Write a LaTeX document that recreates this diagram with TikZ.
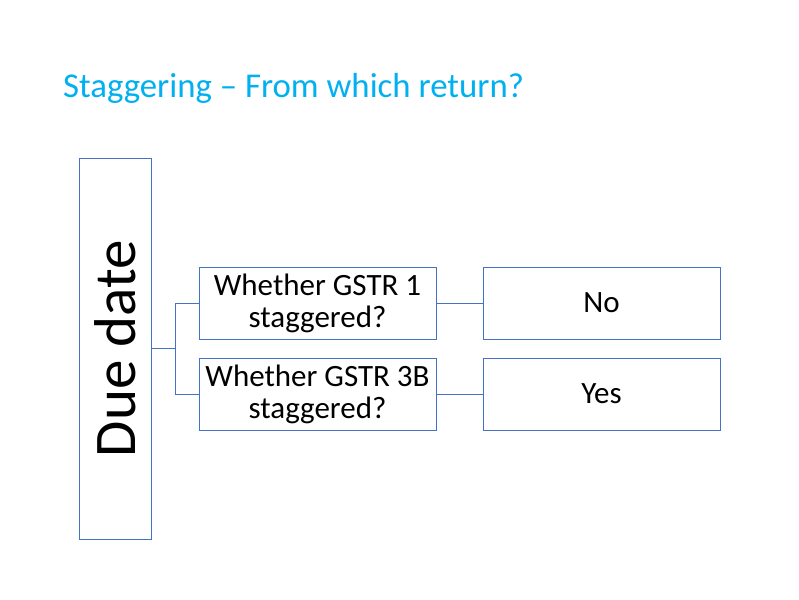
\documentclass[tikz,border=0pt]{standalone}
\usepackage{fontspec}
\setmainfont{Carlito}
\definecolor{titleblue}{HTML}{00B0F0}
\definecolor{lineblue}{HTML}{4472C4}
\tikzset{
    box/.style={draw=lineblue, line width=0.9pt, fill=white, minimum width=237pt, minimum height=72pt, inner sep=0pt, align=center, font=\fontsize{31}{32}\selectfont},
    link/.style={draw=lineblue, line width=0.9pt}
}
\begin{document}
\begin{tikzpicture}[x=1pt, y=1pt]
    \useasboundingbox[fill=white] (0,0) rectangle (799,599);

    % Title
    \node[anchor=base west, inner sep=0pt, text=titleblue, font=\fontsize{34.8}{40}\selectfont] (title) at (63,501) {Staggering -- From which return?};

    % Draw the tall box
    \node[draw=lineblue, line width=0.9pt, minimum width=72pt, minimum height=381pt, inner sep=0pt] (due) at (115,250.5) {};
    \node[rotate=90, font=\fontsize{59}{60}\selectfont, inner sep=0pt] (duetext) at (115,250.5) {Due date};

    % Draw the questions
    \node[box] (q1) at (317.5,296) {Whether GSTR 1\\staggered?};
    \node[box] (q2) at (317.5,205) {Whether GSTR 3B\\staggered?};

    % Draw the answers
    \node[box] (no) at (601.5,296) {No};
    \node[box] (yes) at (601.5,205) {Yes};

    % Draw the connectors
    \coordinate (fork) at (175,250.5);
    \draw[link] (due.east) -- (fork);
    \draw[link] (fork) |- (q1.west);
    \draw[link] (fork) |- (q2.west);
    \draw[link] (q1.east) -- (no.west);
    \draw[link] (q2.east) -- (yes.west);
\end{tikzpicture}
\end{document}
